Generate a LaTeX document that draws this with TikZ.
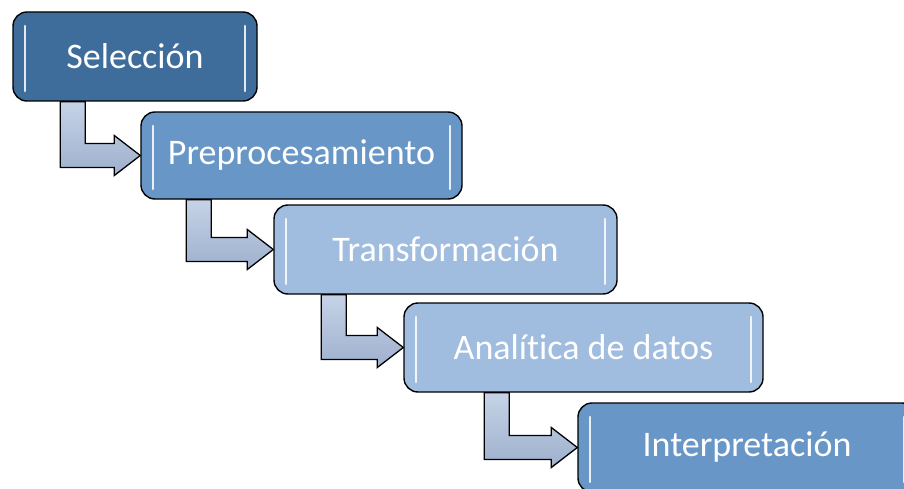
\documentclass[tikz,border=0pt]{standalone}
\usepackage{fontspec}
\setmainfont[Ligatures=NoCommon]{Carlito}
\usepackage{tikz}
\usetikzlibrary{calc}

\definecolor{darkblue}{RGB}{62,109,156}
\definecolor{midblue}{RGB}{104,150,199}
\definecolor{lightblue}{RGB}{160,188,222}
\definecolor{arrowtop}{RGB}{198,211,231}
\definecolor{arrowbot}{RGB}{158,176,205}

% bent arrow from below one box to the left side of the next one
\newcommand{\bentarrow}[3]{%
    \draw[flowarrow] let \p1=(#1.south west), \p2=(#2.west) in
        (\x1+#3pt,\y1) -- (\x1+#3pt,\y2-12pt) -- (\x2-26pt,\y2-12pt)
        -- (\x2-26pt,\y2-20pt) -- (\x2,\y2) -- (\x2-26pt,\y2+20pt)
        -- (\x2-26pt,\y2+12pt) -- (\x1+#3pt+25pt,\y2+12pt)
        -- (\x1+#3pt+25pt,\y1) -- cycle;}

\begin{document}
\begin{tikzpicture}[x=1pt,y=1pt,
        stage/.style={draw=black, line width=1.4pt, rounded corners=14pt,
            text=white, font=\fontsize{36}{40}\selectfont, inner sep=0pt,
            path picture={
                \draw[white, opacity=0.85, line width=2.6pt, line cap=round]
                    ([xshift=12pt,yshift=-14pt]path picture bounding box.north west)
                    -- ([xshift=12pt,yshift=10pt]path picture bounding box.south west);
                \draw[white, opacity=0.85, line width=2.6pt, line cap=round]
                    ([xshift=-12pt,yshift=-14pt]path picture bounding box.north east)
                    -- ([xshift=-12pt,yshift=10pt]path picture bounding box.south east);
            }},
        flowarrow/.style={draw=black, line width=1.3pt, line join=miter,
            top color=arrowtop, bottom color=arrowbot}]
    \useasboundingbox (0,0) rectangle (904,-489);
    \clip (0,0) rectangle (904,-489);

    \node[stage, fill=darkblue, minimum width=244pt, minimum height=89pt] (sel) at (135,-56.5) {Selección};
    \node[stage, fill=midblue, minimum width=321pt, minimum height=87pt] (pre) at (301.5,-155.5) {Preprocesamiento};
    \node[stage, fill=lightblue, minimum width=343pt, minimum height=89pt] (tra) at (445.5,-249.5) {Transformación};
    \node[stage, fill=lightblue, minimum width=359pt, minimum height=89pt] (ana) at (583.5,-347.5) {Analítica de datos};
    \node[stage, fill=midblue, minimum width=338pt, minimum height=89pt] (int) at (747,-447.5) {Interpretación};

    \bentarrow{sel}{pre}{48}
    \bentarrow{pre}{tra}{46}
    \bentarrow{tra}{ana}{48}
    \bentarrow{ana}{int}{81}
\end{tikzpicture}
\end{document}
